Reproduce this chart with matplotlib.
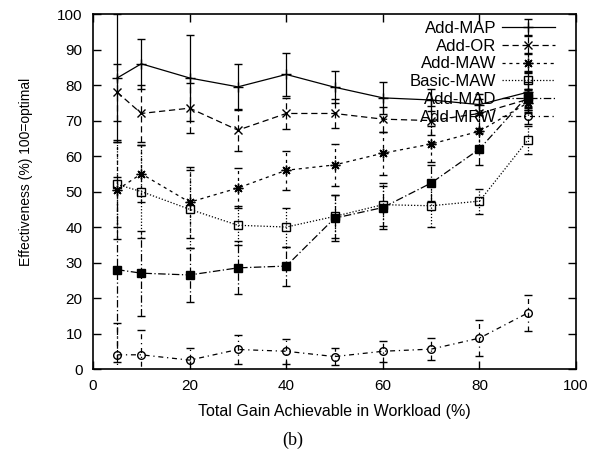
import numpy as np
import matplotlib
matplotlib.use("Agg")
import matplotlib.pyplot as plt

plt.rcParams['font.family'] = ['Liberation Sans', 'DejaVu Sans']

# gain levels (x) shared by every series
gain = [5, 10, 20, 30, 40, 50, 60, 70, 80, 90]

add_map = [82, 86, 82, 79.5, 83, 79.4, 76.4, 75.8, 74.5, 78]
add_map_err = [18, 7, 12, 6.5, 6, 4.5, 4.5, 3, 3, 5.5]

add_or = [78, 72, 73.5, 67.3, 72, 72, 70.4, 70, 72, 76]
add_or_err = [8, 8, 7, 6, 4.5, 4, 3.5, 4, 4, 3]

add_maw = [50.5, 55, 47, 51, 56, 57.5, 60.8, 63.4, 67, 75]
add_maw_err = [14, 8, 10, 5.5, 5.5, 6, 6, 5, 5, 3]

basic_maw = [52, 50, 45, 40.5, 40, 43, 46.3, 46, 47.3, 64.5]
basic_maw_err = [12, 13, 11, 5.5, 5.5, 6, 6, 6, 3.5, 4]

add_mad = [28, 27, 26.5, 28.5, 29, 42.5, 45.5, 52.4, 62, 77]
add_mad_err = [26, 12, 7.5, 7.5, 5.5, 6.5, 6, 5, 4.5, 4]

add_mrw = [4, 4, 2.5, 5.5, 5, 3.5, 5, 5.6, 8.7, 15.8]
add_mrw_err = [9, 7, 3.5, 4, 3.5, 2.5, 3, 3, 5, 5]

series = [
    ("Add-MAP", add_map, add_map_err, "-", "+", "k", 7),
    ("Add-OR", add_or, add_or_err, (0, (5, 3)), "x", "k", 6),
    ("Add-MAW", add_maw, add_maw_err, (0, (2.5, 3)), (8, 2, 0), "k", 7),
    ("Basic-MAW", basic_maw, basic_maw_err, (0, (1, 1.5)), "s", "none", 5.5),
    ("Add-MAD", add_mad, add_mad_err, (0, (6, 2, 1, 2)), "s", "k", 5.5),
    ("Add-MRW", add_mrw, add_mrw_err, (0, (4, 3, 1, 3)), "o", "none", 5.5),
]

fig = plt.figure(figsize=(6.02, 4.55), dpi=100)
ax = fig.add_axes([0.1545, 0.189, 0.8025, 0.78])

for label, vals, err, ls, mk, fc, ms in series:
    line, caps, bars = ax.errorbar(gain, vals, yerr=err, color="k", lw=0.9,
                                   ls=ls, marker=mk, ms=ms, mfc=fc, mec="k",
                                   mew=1.0, capsize=3, elinewidth=0.9,
                                   capthick=0.9, label=label)
    bars[0].set_linestyle(ls)

ax.set_xlim(0, 100)
ax.set_ylim(0, 100)
ax.set_xticks(range(0, 101, 20))
ax.set_yticks(range(0, 101, 10))
ax.tick_params(direction="in", length=6, width=1, top=True, right=True,
               labelsize=11, pad=7.5)
for sp in ax.spines.values():
    sp.set_linewidth(1.2)

ax.set_xlabel("Total Gain Achievable in Workload (%)", fontsize=11.5)
ax.xaxis.set_label_coords(0.5, -0.1)
ax.set_ylabel("Effectiveness (%) 100=optimal", fontsize=10)
ax.yaxis.set_label_coords(-0.125, 0.555)

leg = ax.legend(loc="upper right", frameon=False, markerfirst=False,
                fontsize=12, handlelength=3.2, handletextpad=0.3,
                labelspacing=0.17, borderaxespad=0.0,
                bbox_to_anchor=(0.97, 1.0))

fig.text(0.487, 0.033, "(b)", fontsize=13, family="Liberation Serif",
         ha="center", va="center")

fig.savefig("out.png", dpi=100)
